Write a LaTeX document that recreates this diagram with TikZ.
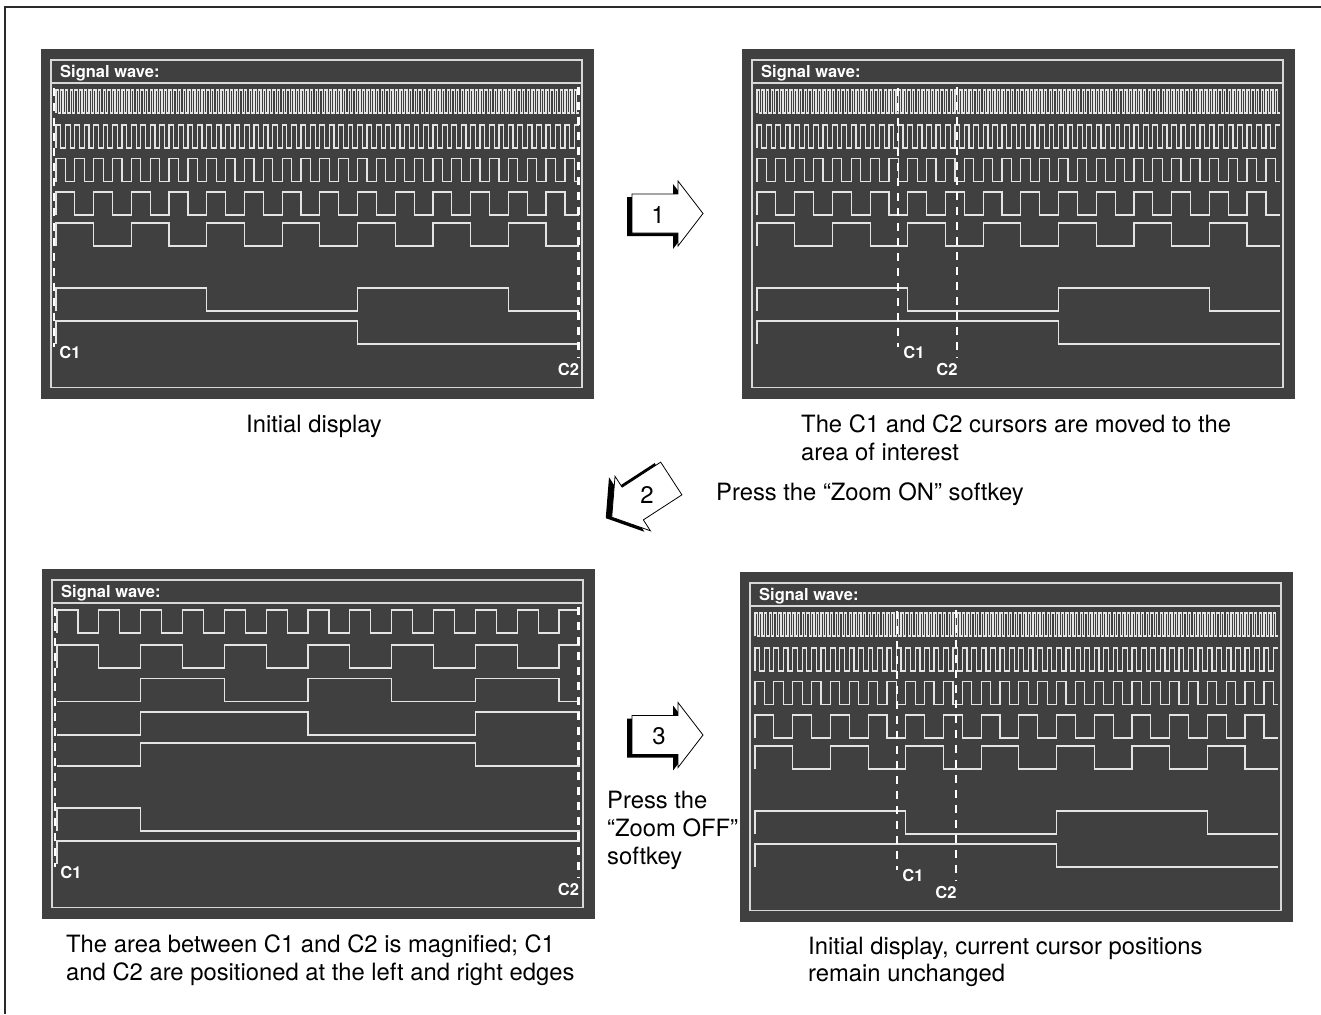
\documentclass[tikz,border=0pt]{standalone}
\usepackage{fontspec}
\setmainfont{TeX Gyre Heros}
\setsansfont{TeX Gyre Heros}
\definecolor{scr}{HTML}{404040}
\definecolor{sigc}{HTML}{E4E4E4}
\definecolor{frm}{HTML}{D8D8D8}
\definecolor{outl}{HTML}{2A2A2A}
\tikzset{
  sigline/.style={draw=sigc, line width=1.2pt, line join=miter},
  frameline/.style={draw=frm, line width=1.4pt},
  cursorline/.style={draw=white, line width=2.2pt, dash pattern=on 8pt off 7pt},
  titletext/.style={text=white, font=\fontsize{16.5}{18}\selectfont\bfseries, inner sep=0pt, anchor=base west},
  clabel/.style={text=white, font=\fontsize{16.5}{18}\selectfont\bfseries, inner sep=0pt},
  captext/.style={font=\fontsize{23.8}{28}\selectfont, inner sep=0pt, anchor=base west},
  arrlabel/.style={font=\fontsize{24}{28}\selectfont, inner sep=0pt},
  arrowshade/.style={fill=black},
  arrowbody/.style={draw=black, fill=white, line width=0.8pt, line join=miter},
}
% one square-wave row: X0, yhigh, half-period, t0, t1, scale
\newcommand{\sigrow}[6]{%
  \pgfmathtruncatemacro\wna{floor((#4)/(#3))}%
  \pgfmathtruncatemacro\wnb{ceil((#5)/(#3))-1}%
  \draw[sigline] ({#1},{#2+23}) \foreach \ii in {\wna,...,\wnb}{ -- ({#1+(max(\ii*(#3),#4)-(#4))*(#6)},{#2+mod(\ii,2)*23}) -- ({#1+(min((\ii+1)*(#3),#5)-(#4))*(#6)},{#2+mod(\ii,2)*23}) };%
}
% all rows of one screen
\newcommand{\wavesof}[5]{% fx, fy, t0, t1, scale
  \foreach \rr/\yy in {1/30,2/65,3/98.5,4/132,5/163,7/228,8/261}{%
    \pgfmathsetmacro\hh{2^(\rr-1)}%
    \sigrow{#1+5}{#2+\yy}{\hh}{#3}{#4}{#5}%
  }%
}
% screen background, frame, header
\newcommand{\scrn}[3]{% name, fx, fy
  \fill[scr] ({#2-10},{#3-11}) rectangle ({#2+542.5},{#3+338.5});
  \draw[frameline] ({#2},{#3}) rectangle ({#2+531},{#3+327.5});
  \draw[frameline] ({#2},{#3+23}) -- ({#2+531},{#3+23});
  \node[titletext] (#1title) at ({#2+9},{#3+17.5}) {Signal wave:};
}
% cursors: name, fy, x of C1, x of C2
\newcommand{\cursors}[4]{%
  \draw[cursorline] ({#3},{#2+28}) -- ({#3},{#2+287});
  \draw[cursorline] ({#4},{#2+27}) -- ({#4},{#2+298});
  \node[clabel] (#1cA) at ({#3+16},{#2+292}) {C1};
  \node[clabel] (#1cB) at ({#4-10},{#2+309}) {C2};
}
% block arrow: cx, cy, angle, shadow dx, shadow dy
\newcommand{\blockarrow}[5]{%
  \fill[arrowshade, shift={({#1+#4},{#2+#5})}, rotate=#3]
    (-23,-19.5) -- (23,-19.5) -- (23,-32.5) -- (48,0) -- (23,32.5) -- (23,19.5) -- (-23,19.5) -- cycle;
  \draw[arrowbody, shift={({#1},{#2})}, rotate=#3]
    (-23,-19.5) -- (23,-19.5) -- (23,-32.5) -- (48,0) -- (23,32.5) -- (23,19.5) -- (-23,19.5) -- cycle;
}
\begin{document}
\begin{tikzpicture}[x=1pt, y=-1pt]
\useasboundingbox (0,0) rectangle (1321,1014);
% outer frame (top and left only)
\draw[outl, line width=1.3pt] (5,1014) -- (5,7) -- (1321,7);

% screen 1
\scrn{sA}{51}{60}
\wavesof{51}{60}{0}{222}{2.356}
\cursors{sA}{60}{54}{578.5}
% screen 2
\scrn{sB}{752}{60}
\wavesof{752}{60}{0}{222}{2.356}
\cursors{sB}{60}{898}{957}
% screen 3 (zoomed)
\scrn{sC}{52}{580}
\wavesof{52}{580}{60}{85}{20.92}
\cursors{sC}{580}{55}{578.5}
% screen 4
\scrn{sD}{750}{583}
\wavesof{750}{583}{0}{222}{2.356}
\cursors{sD}{583}{897}{956}

% arrows
\blockarrow{655}{213.5}{0}{-5}{3}
\node[arrlabel] (n1) at (658,215) {1};
\blockarrow{652}{491}{213}{-6}{1}
\node[arrlabel] (n2) at (647,495) {2};
\blockarrow{655}{735}{0}{-5}{3}
\node[arrlabel] (n3) at (659,736) {3};

% captions
\node[captext] (capA) at (246,432) {Initial display};
\node[captext] (capBa) at (801,432) {The C1 and C2 cursors are moved to the};
\node[captext] (capBb) at (801,460) {area of interest};
\node[captext] (capZ) at (716,500) {Press the “Zoom ON” softkey};
\node[captext] (capCa) at (66,952) {The area between C1 and C2 is magnified; C1};
\node[captext] (capCb) at (66,980) {and C2 are positioned at the left and right edges};
\node[captext] (capDa) at (808,954) {Initial display, current cursor positions};
\node[captext] (capDb) at (808,981) {remain unchanged};
\node[captext] (capOa) at (607,808) {Press the};
\node[captext] (capOb) at (607,836) {“Zoom OFF”};
\node[captext] (capOc) at (607,864) {softkey};
\end{tikzpicture}
\end{document}
